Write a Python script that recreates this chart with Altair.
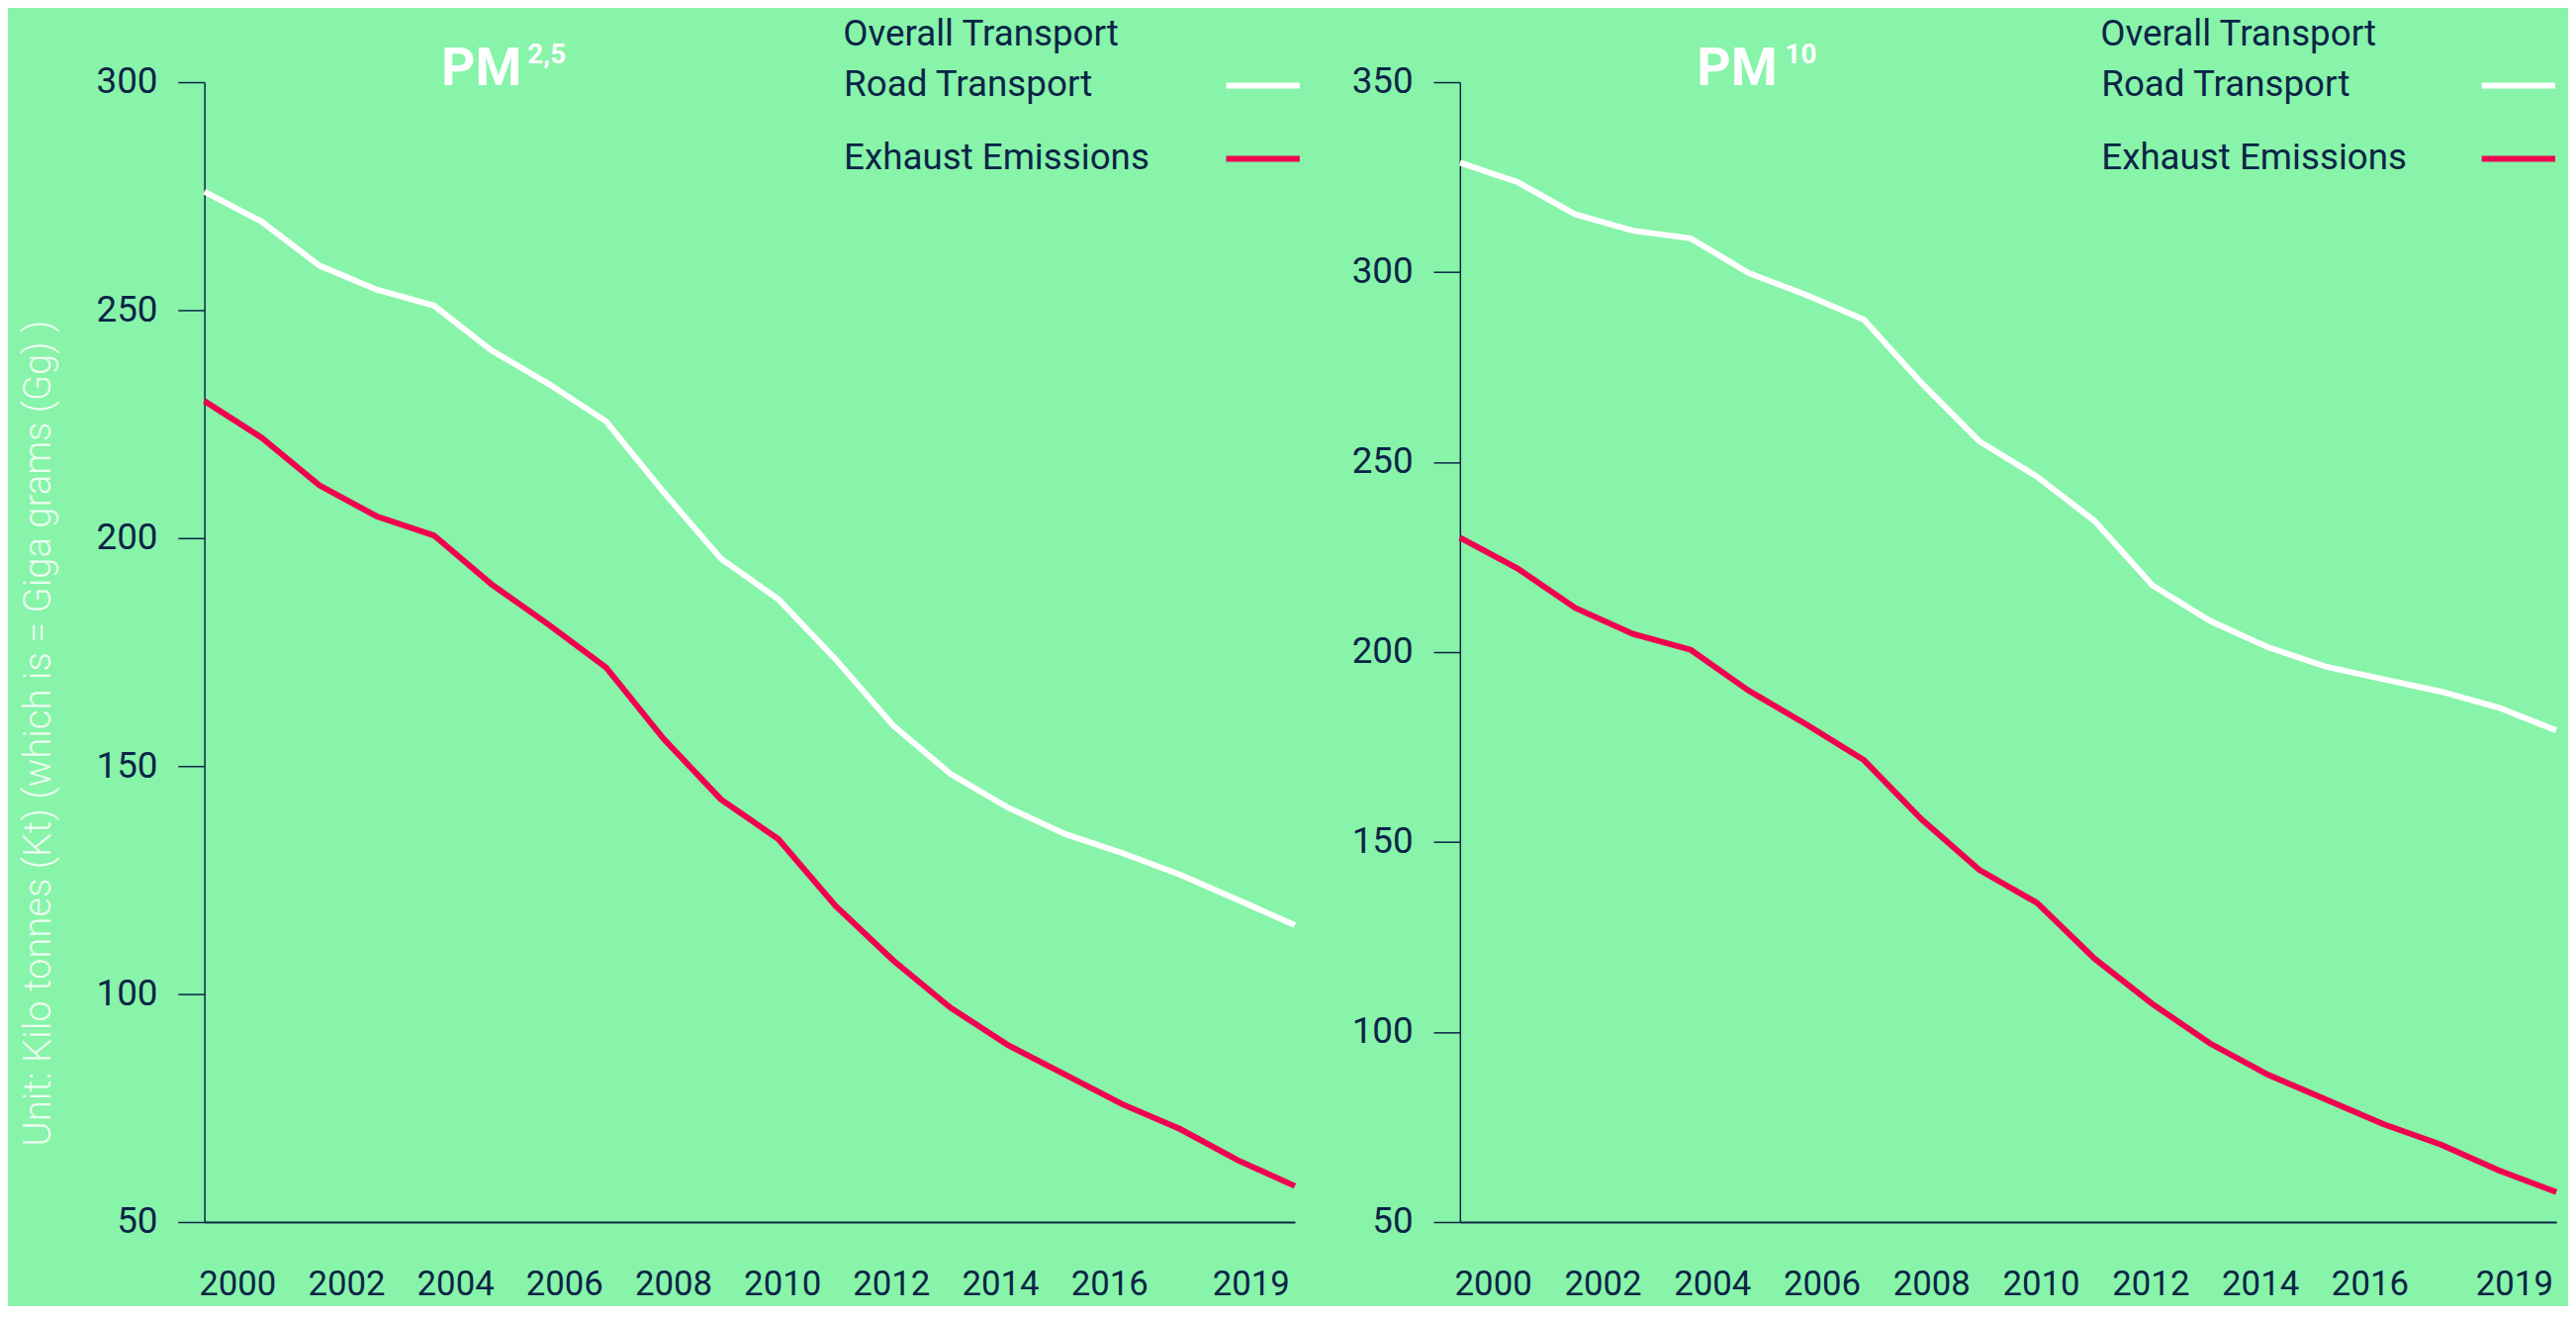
import altair as alt
import pandas as pd

# ---- data ----
years = [2000, 2001, 2002, 2003, 2004, 2005, 2006, 2007, 2008, 2009,
         2010, 2011, 2012, 2013, 2014, 2015, 2016, 2017, 2018, 2019]
pm25_road = [276.0, 269.4, 259.8, 254.5, 251.0, 241.2, 233.8, 225.6, 210.1, 195.5,
             186.6, 173.4, 158.9, 148.3, 140.9, 135.1, 130.9, 126.2, 120.7, 115.1]
pm10_road = [328.8, 323.7, 315.2, 310.9, 308.9, 299.8, 294.0, 287.5, 270.8, 255.5,
             246.2, 234.5, 217.6, 208.2, 201.3, 196.2, 192.9, 189.6, 185.4, 179.4]
exhaust = [230.1, 222.0, 211.6, 204.8, 200.6, 189.9, 181.0, 171.6, 156.0, 142.7,
           134.0, 119.3, 107.4, 97.0, 88.8, 82.3, 75.8, 70.4, 63.6, 57.9]
series_names = ["Road Transport", "Exhaust Emissions"]
legend_title = "Overall Transport"
x_tick_years = [2000, 2002, 2004, 2006, 2008, 2010, 2012, 2014, 2016, 2019]
y_title = "Unit: Kilo tonnes (Kt) (which is = Giga grams (Gg) )"

BG = "#87F4A9"
NAVY = "#0B2447"
RED = "#F0004F"
WHITE = "#FFFFFF"
FONT = "Roboto"
PLOT_H = 1160


def panel(road, title_main, title_sup, ymax, width, off_expr, show_ytitle,
          legend_x, sym_off, sup_x):
    df = pd.DataFrame({
        "year": years + years,
        "series": [series_names[0]] * len(years) + [series_names[1]] * len(years),
        "value": road + exhaust,
    })
    if show_ytitle:
        y_axis = alt.Axis(
            values=list(range(50, ymax + 1, 50)), title=y_title,
            titleFont=FONT, titleFontSize=38.5, titleFontWeight=300,
            titleColor=WHITE, titleOpacity=0.85, titleX=-157, titleY=662,
            titleAngle=-90, titleAlign="center", titleBaseline="alphabetic",
        )
    else:
        y_axis = alt.Axis(values=list(range(50, ymax + 1, 50)), title=None)

    x_axis = alt.Axis(
        values=x_tick_years, format="d", title=None, ticks=False, tickSize=0,
        labelFlush=False, labelOverlap=False, labelBaseline="alphabetic",
        labelPadding=74, labelOffset={"expr": off_expr},
    )
    lines = alt.Chart(df).mark_line(strokeWidth=6).encode(
        x=alt.X("year:Q", scale=alt.Scale(domain=[2000, 2019], nice=False, zero=False), axis=x_axis),
        y=alt.Y("value:Q", scale=alt.Scale(domain=[50, ymax], nice=False, zero=False), axis=y_axis),
        color=alt.Color(
            "series:N",
            scale=alt.Scale(domain=series_names, range=[WHITE, RED]),
            legend=alt.Legend(
                title=legend_title, orient="none", legendX=legend_x, legendY=-66,
                direction="vertical", padding=0,
                titleFont=FONT, titleFontSize=37, titleFontWeight="normal",
                titleColor=NAVY, titlePadding=14, titleLimit=1000, titleAnchor="start",
                labelFont=FONT, labelFontSize=37, labelColor=NAVY,
                labelOffset={"expr": str(-(sym_off + 36))}, labelLimit=1000,
                symbolType="M-40,0H40", symbolSize=3.5, symbolStrokeWidth=6,
                symbolOffset=sym_off, rowPadding=36.5,
            ),
        ),
    )
    t_main = alt.Chart(pd.DataFrame({"t": [title_main]})).mark_text(
        align="left", baseline="alphabetic", font=FONT, fontSize=54,
        fontWeight="bold", color=WHITE,
    ).encode(text="t:N", x=alt.value(241), y=alt.value(3))
    t_sup = alt.Chart(pd.DataFrame({"t": [title_sup]})).mark_text(
        align="left", baseline="alphabetic", font=FONT, fontSize=28,
        fontWeight="bold", color=WHITE,
    ).encode(text="t:N", x=alt.value(sup_x), y=alt.value(-19))
    return alt.layer(lines, t_main, t_sup).properties(width=width, height=PLOT_H)


left = panel(pm25_road, "PM", "2,5", 300, 1110,
             "datum.value == 2019 ? -45 : 33.4 - 2.95 * (datum.value - 2000)", True,
             650, 409, 329)
right = panel(pm10_road, "PM", "10", 350, 1116,
              "datum.value == 2019 ? -43 : 33.6 - 2.96 * (datum.value - 2000)", False,
              652, 407, 331)

chart = alt.hconcat(left, right, spacing=40).resolve_scale(color="independent").configure(
    background=BG, font=FONT,
    padding={"left": 12, "top": 5, "right": 0, "bottom": 0},
).configure_view(strokeWidth=0).configure_axis(
    grid=False, labelFont=FONT, labelFontSize=37, labelColor=NAVY,
    domainColor=NAVY, tickColor=NAVY,
).configure_axisY(
    tickSize=27, tickWidth=1.5, domainWidth=1.5, labelPadding=21,
).configure_axisX(
    domainWidth=2, labelFontSize=35,
)

chart.save("out.html", embed_options={"renderer": "svg", "actions": False})
